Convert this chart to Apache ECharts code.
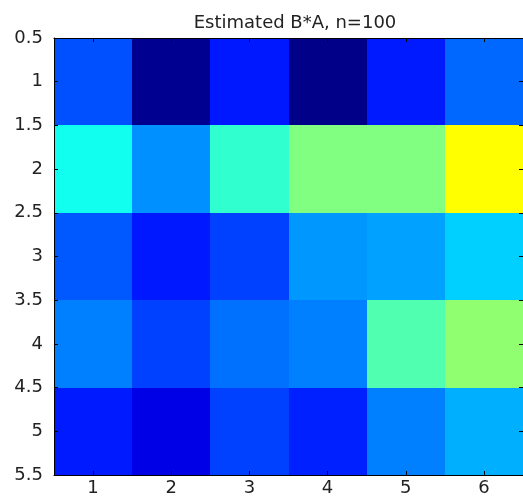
<!DOCTYPE html>
<html>
<head>
<meta charset="utf-8">
<script src="https://cdn.jsdelivr.net/npm/echarts@6/dist/echarts.min.js"></script>
<style>
  html, body { margin: 0; padding: 0; background: #fff; }
  #chart { width: 523px; height: 501px; }
</style>
</head>
<body>
<div id="chart"></div>
<script>
var columns = [1, 2, 3, 4, 5, 6];
var rows = [1, 2, 3, 4, 5];
var xTicks = [1, 2, 3, 4, 5, 6];
var yTicks = [0.5, 1, 1.5, 2, 2.5, 3, 3.5, 4, 4.5, 5, 5.5];

// estimated values, one array per row (top to bottom)
var row1 = [0.203, 0.016, 0.148, 0.008, 0.150, 0.227];
var row2 = [0.391, 0.266, 0.422, 0.500, 0.500, 0.625];
var row3 = [0.211, 0.148, 0.188, 0.274, 0.282, 0.329];
var row4 = [0.250, 0.188, 0.235, 0.250, 0.453, 0.516];
var row5 = [0.150, 0.100, 0.188, 0.156, 0.250, 0.297];
var values = [row1, row2, row3, row4, row5];

var jet = ['#000080', '#0000ff', '#0080ff', '#00ffff', '#80ff80',
           '#ffff00', '#ff8000', '#ff0000', '#800000'];

var data = [];
rows.forEach(function (r, i) {
  columns.forEach(function (c, j) {
    data.push([c, r, values[i][j]]);
  });
});

var chartDom = document.getElementById('chart');
var myChart = echarts.init(chartDom);

function renderItem(params, api) {
  var x = api.value(0), y = api.value(1);
  var p0 = api.coord([x - 0.5, y - 0.5]);
  var p1 = api.coord([x + 0.5, y + 0.5]);
  var x0 = Math.round(Math.min(p0[0], p1[0])), x1 = Math.round(Math.max(p0[0], p1[0]));
  var y0 = Math.round(Math.min(p0[1], p1[1])), y1 = Math.round(Math.max(p0[1], p1[1]));
  return {
    type: 'rect',
    shape: { x: x0, y: y0, width: x1 - x0, height: y1 - y0 },
    style: { fill: api.visual('color') }
  };
}

var labelFont = { fontFamily: 'DejaVu Sans', fontSize: 18, color: '#222' };
var line = { show: true, lineStyle: { color: '#000', width: 1 } };

function tick(vals) {
  return { show: true, inside: true, length: 4, customValues: vals, lineStyle: { color: '#000' } };
}

var option = {
  animation: false,
  backgroundColor: '#fff',
  title: {
    text: 'Estimated B*A, n=100',
    left: 290,
    textAlign: 'center',
    top: 9,
    textStyle: { fontFamily: 'DejaVu Sans', fontSize: 18, fontWeight: 'normal', color: '#222' }
  },
  grid: { left: 54, top: 38, right: -3, bottom: 26 },
  visualMap: {
    show: false,
    type: 'continuous',
    dimension: 2,
    min: 0,
    max: 1,
    inRange: { color: jet }
  },
  xAxis: [
    {
      type: 'value', min: 0.5, max: 6.5, interval: 0.5, position: 'bottom', z: 10,
      axisLine: line, axisTick: tick(xTicks), splitLine: { show: false },
      axisLabel: Object.assign({ customValues: xTicks, margin: 4 }, labelFont)
    },
    {
      type: 'value', min: 0.5, max: 6.5, interval: 0.5, position: 'top', z: 10,
      axisLine: line, axisTick: tick(xTicks), splitLine: { show: false },
      axisLabel: { show: false }
    }
  ],
  yAxis: [
    {
      type: 'value', min: 0.5, max: 5.5, interval: 0.5, inverse: true, position: 'left', z: 10,
      axisLine: line, axisTick: tick(yTicks), splitLine: { show: false },
      axisLabel: Object.assign({ customValues: yTicks, margin: 11 }, labelFont)
    },
    {
      type: 'value', min: 0.5, max: 5.5, interval: 0.5, inverse: true, position: 'right', z: 10,
      axisLine: line, axisTick: tick(yTicks), splitLine: { show: false },
      axisLabel: { show: false }
    }
  ],
  series: [
    {
      type: 'custom',
      renderItem: renderItem,
      xAxisIndex: 0,
      yAxisIndex: 0,
      encode: { x: 0, y: 1 },
      data: data
    }
  ]
};
option && myChart.setOption(option);
</script>
</body>
</html>
